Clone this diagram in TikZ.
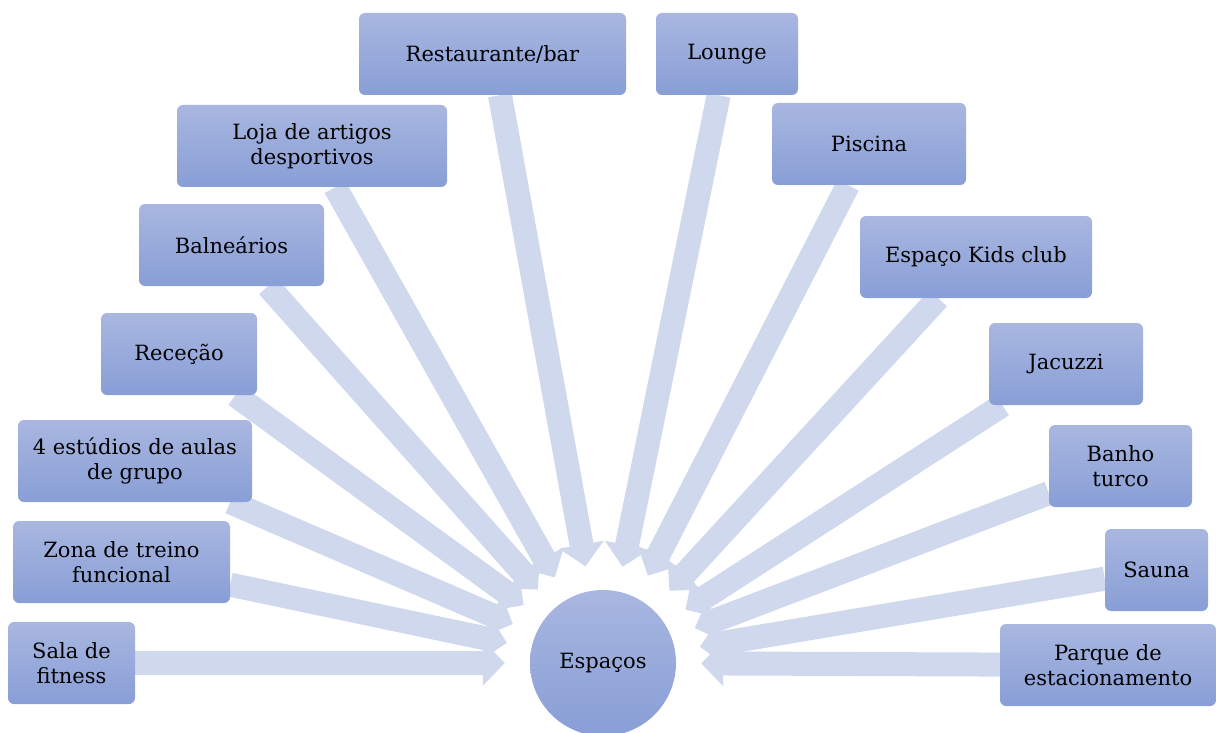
\documentclass[tikz,border=0pt]{standalone}
\usepackage{fontspec}
\setmainfont{DejaVu Serif}
\usetikzlibrary{arrows.meta,shapes}
\pgfdeclarelayer{background}
\pgfsetlayers{background,main}
\definecolor{boxtop}{HTML}{A9B7E0}
\definecolor{boxbot}{HTML}{889ED6}
\definecolor{flowcol}{HTML}{D0D8ED}

\begin{document}
\begin{tikzpicture}[
    x=1pt, y=-1pt,
    box/.style ={
        rectangle,
        rounded corners=6pt,
        minimum height=82pt,
        align=center,
        top color=boxtop,
        bottom color=boxbot,
        font=\fontsize{21}{25}\selectfont
    },
    hub/.style ={
        circle,
        minimum size=146pt,
        top color=boxtop,
        bottom color=boxbot,
        font=\fontsize{21}{25}\selectfont
    },
    flow/.style ={
        draw=flowcol,
        line width=24pt,
        shorten >=25pt,
        -{Triangle[width=44pt,length=22pt]}
    }
    ]

    \useasboundingbox (0,0) rectangle (1216,733);

    \node[hub] (espacos) at (603,663) {Espaços};

    \node[box, minimum width=267pt] (restaurante) at (492.5,54) {Restaurante/bar};
    \node[box, minimum width=142pt] (lounge) at (727,54) {Lounge};
    \node[box, minimum width=270pt] (loja) at (312,146) {Loja de artigos\\desportivos};
    \node[box, minimum width=194pt] (piscina) at (869,144) {Piscina};
    \node[box, minimum width=185pt] (balnearios) at (231.5,245) {Balneários};
    \node[box, minimum width=232pt] (kids) at (976,257) {Espaço Kids club};
    \node[box, minimum width=156pt] (rececao) at (179,354) {Receção};
    \node[box, minimum width=154pt] (jacuzzi) at (1066,364) {Jacuzzi};
    \node[box, minimum width=234pt] (estudios) at (135,461) {4 estúdios de aulas\\de grupo};
    \node[box, minimum width=143pt] (banho) at (1120.5,466) {Banho\\turco};
    \node[box, minimum width=217pt] (zona) at (121.5,562) {Zona de treino\\funcional};
    \node[box, minimum width=103pt] (sauna) at (1156.5,570) {Sauna};
    \node[box, minimum width=127pt] (sala) at (71.5,663) {Sala de\\fitness};
    \node[box, minimum width=216pt] (parque) at (1108,665) {Parque de\\estacionamento};

    \begin{pgfonlayer}{background}
    \foreach \src in {restaurante, lounge, loja, piscina, balnearios, kids, rececao,
                      jacuzzi, estudios, banho, zona, sauna, sala, parque}
        \path[flow] (\src) -- (espacos);
    \end{pgfonlayer}
\end{tikzpicture}
\end{document}
